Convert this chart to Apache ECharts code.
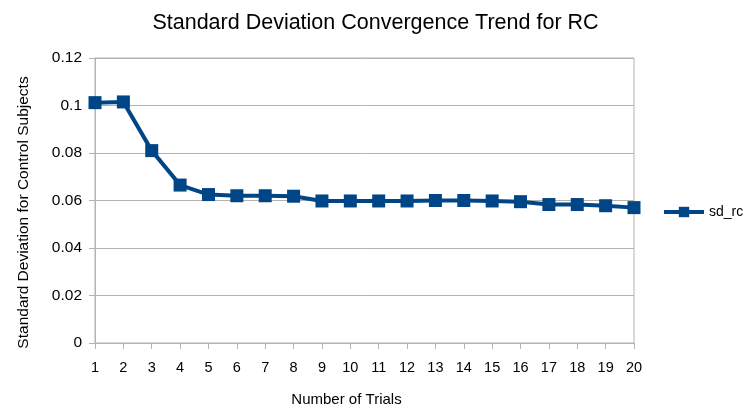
<!DOCTYPE html>
<html>
<head>
<meta charset="utf-8">
<script src="https://cdn.jsdelivr.net/npm/echarts@6/dist/echarts.min.js"></script>
<style>
html, body { margin: 0; padding: 0; background: #fff; }
#chart { width: 751px; height: 412px; }
</style>
</head>
<body>
<div id="chart"></div>
<script>
// Trial numbers and standard deviation of the RC control subjects
const trials = ['1','2','3','4','5','6','7','8','9','10','11','12','13','14','15','16','17','18','19','20'];
const sdRc = [0.1012, 0.1015, 0.081, 0.0665, 0.0625, 0.062, 0.062, 0.0618, 0.0598, 0.0598,
              0.0598, 0.0598, 0.06, 0.06, 0.0598, 0.0595, 0.0583, 0.0583, 0.0578, 0.057];
const yTicks = { min: 0, max: 0.12, interval: 0.02 };

const font = 'Liberation Sans, Arial, sans-serif';
const chart = echarts.init(document.getElementById('chart'), null, { renderer: 'canvas' });
chart.setOption({
  animation: false,
  backgroundColor: '#ffffff',
  title: {
    text: 'Standard Deviation Convergence Trend for RC',
    left: 'center',
    top: 7,
    textStyle: { fontFamily: font, fontSize: 21.5, fontWeight: 'normal', color: '#000' }
  },
  legend: {
    left: 657,
    top: 200,
    itemWidth: 40,
    itemHeight: 13,
    itemGap: 5,
    lineStyle: { width: 4 },
    textStyle: { fontFamily: font, fontSize: 14, color: '#000' },
    data: ['sd_rc']
  },
  grid: {
    left: 95, right: 117, top: 58, bottom: 68,
    show: true, borderColor: '#b3b3b3', borderWidth: 1
  },
  xAxis: {
    type: 'category',
    data: trials,
    boundaryGap: false,
    name: 'Number of Trials',
    nameLocation: 'middle',
    nameGap: 49,
    nameTextStyle: { fontFamily: font, fontSize: 15, color: '#000', padding: [0, 36, 0, 0] },
    axisLine: { lineStyle: { color: '#b3b3b3', width: 1 } },
    axisTick: { show: true, alignWithLabel: true, length: 6, lineStyle: { color: '#b3b3b3' } },
    axisLabel: { fontFamily: font, fontSize: 14.5, color: '#000', margin: 17, interval: 0 },
    splitLine: { show: false }
  },
  yAxis: {
    type: 'value',
    min: yTicks.min,
    max: yTicks.max,
    interval: yTicks.interval,
    name: 'Standard Deviation for Control Subjects',
    nameLocation: 'middle',
    nameGap: 63,
    nameTextStyle: { fontFamily: font, fontSize: 15.5, color: '#000', padding: [0, 24, 0, 0] },
    axisLine: { show: true, lineStyle: { color: '#b3b3b3', width: 1 } },
    axisTick: { show: true, length: 6, lineStyle: { color: '#b3b3b3' } },
    axisLabel: { fontFamily: font, fontSize: 15.5, color: '#000', margin: 13 },
    splitLine: { show: true, lineStyle: { color: '#b3b3b3', width: 1 } }
  },
  series: [{
    name: 'sd_rc',
    type: 'line',
    data: sdRc,
    symbol: 'rect',
    symbolSize: 13,
    itemStyle: { color: '#004586' },
    lineStyle: { color: '#004586', width: 4 }
  }]
});
</script>
</body>
</html>
